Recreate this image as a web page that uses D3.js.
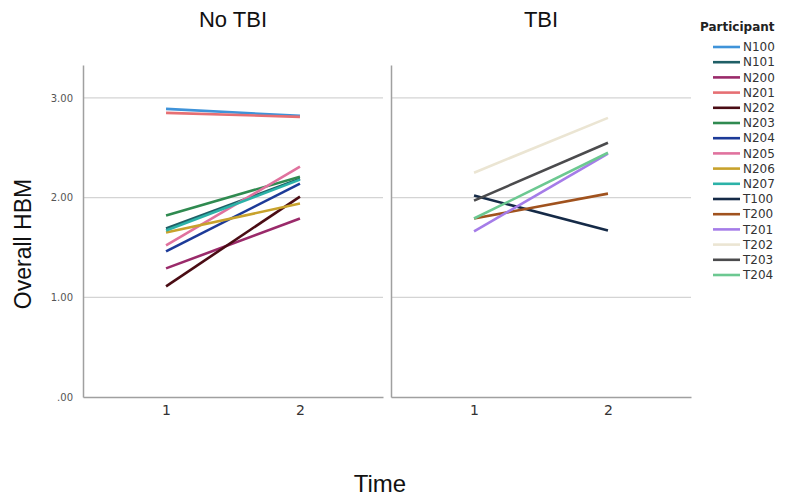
<!DOCTYPE html>
<html>
<head>
<meta charset="utf-8">
<script src="https://cdn.jsdelivr.net/npm/d3@7"></script>
<style>
  body { margin: 0; background: #fff; }
  svg { display: block; }
</style>
</head>
<body>
<div id="chart"></div>
<script>
// participants, colours and group (panel)
var participants = ["N100", "N101", "N200", "N201", "N202", "N203", "N204", "N205", "N206", "N207",
                    "T100", "T200", "T201", "T202", "T203", "T204"];
var colors = ["#3f93d9", "#1f5f66", "#9a2a6a", "#e66f73", "#4a0c14", "#2f8a50", "#1c3a98", "#e0729e", "#c8a22c", "#2cb2a8",
              "#152a47", "#a0521e", "#a57ce8", "#ebe5d3", "#4b4b4d", "#6cc891"];
var groups = ["No TBI", "No TBI", "No TBI", "No TBI", "No TBI", "No TBI", "No TBI", "No TBI", "No TBI", "No TBI",
              "TBI", "TBI", "TBI", "TBI", "TBI", "TBI"];
// Overall HBM at time 1 and time 2
var time1 = [2.89, 1.69, 1.29, 2.85, 1.11, 1.82, 1.46, 1.52, 1.65, 1.67,
             2.02, 1.79, 1.66, 2.25, 1.97, 1.79];
var time2 = [2.82, 2.19, 1.79, 2.81, 2.01, 2.21, 2.14, 2.31, 1.94, 2.18,
             1.67, 2.04, 2.44, 2.80, 2.55, 2.45];

var panels = ["No TBI", "TBI"];
var times = ["1", "2"];
var yTicks = [0, 1, 2, 3];

var svg = d3.select("#chart")
    .append("svg")
    .attr("width", 798)
    .attr("height", 502);

var margin = { top: 65, bottom: 105, left: 83 },
    panelW = 300,
    panelGap = 8,
    height = 502 - margin.top - margin.bottom;

var y = d3.scaleLinear()
    .domain([0, 3.33])
    .range([height, 0]);

var x = d3.scalePoint()
    .domain(times)
    .range([0, panelW])
    .padding(0.62);

var line = d3.line()
    .x(function (d) { return x(d.t); })
    .y(function (d) { return y(d.v); });

panels.forEach(function (p, pi) {
    var g = svg.append("g")
        .attr("transform", "translate(" + (margin.left + pi * (panelW + panelGap)) + "," + margin.top + ")");

    // gridlines
    g.append("g")
        .selectAll("line")
        .data(yTicks.slice(1))
        .join("line")
        .attr("x1", 0)
        .attr("x2", panelW)
        .attr("y1", function (d) { return y(d); })
        .attr("y2", function (d) { return y(d); })
        .attr("stroke", "#d4d4d4")
        .attr("stroke-width", 1.3);

    // y axis (labels only on the first panel)
    var yAxis = g.append("g")
        .call(d3.axisLeft(y).tickValues(yTicks).tickSize(0).tickPadding(10)
            .tickFormat(function (d) { return pi === 0 ? (d === 0 ? ".00" : d3.format(".2f")(d)) : ""; }));
    yAxis.select(".domain").attr("stroke", "#a0a0a0").attr("stroke-width", 1.5);
    yAxis.selectAll("text")
        .attr("fill", "#555")
        .style("font-family", "DejaVu Sans")
        .style("font-size", "10px");

    // x axis
    var xAxis = g.append("g")
        .attr("transform", "translate(0," + height + ")")
        .call(d3.axisBottom(x).tickSize(0).tickPadding(8));
    xAxis.select(".domain").attr("stroke", "#a0a0a0").attr("stroke-width", 1.5);
    xAxis.selectAll("text")
        .attr("fill", "#333")
        .style("font-family", "DejaVu Sans")
        .style("font-size", "14px");

    // panel title
    g.append("text")
        .attr("x", panelW / 2)
        .attr("y", -38)
        .attr("text-anchor", "middle")
        .style("font-family", "Liberation Sans")
        .style("font-size", "22px")
        .attr("fill", "#111")
        .text(p);

    // participant lines
    participants.forEach(function (id, i) {
        if (groups[i] !== p) return;
        g.append("path")
            .datum([{ t: "1", v: time1[i] }, { t: "2", v: time2[i] }])
            .attr("fill", "none")
            .attr("stroke", colors[i])
            .attr("stroke-width", 2.6)
            .attr("d", line);
    });
});

// y axis title
svg.append("text")
    .attr("transform", "rotate(-90)")
    .attr("x", -244)
    .attr("y", 31)
    .attr("text-anchor", "middle")
    .style("font-family", "Liberation Sans")
    .style("font-size", "23px")
    .attr("fill", "#111")
    .text("Overall HBM");

// x axis title
svg.append("text")
    .attr("x", 380)
    .attr("y", 492)
    .attr("text-anchor", "middle")
    .style("font-family", "Liberation Sans")
    .style("font-size", "24px")
    .attr("fill", "#111")
    .text("Time");

// legend
var legend = svg.append("g").attr("transform", "translate(713,47)");
legend.append("text")
    .attr("x", -13)
    .attr("y", -16)
    .style("font-family", "DejaVu Sans")
    .style("font-size", "12px")
    .style("font-weight", "bold")
    .attr("fill", "#222")
    .text("Participant");

var item = legend.selectAll("g.item")
    .data(participants)
    .join("g")
    .attr("class", "item")
    .attr("transform", function (d, i) { return "translate(0," + (i * 15.2) + ")"; });
item.append("line")
    .attr("x1", 0)
    .attr("x2", 27)
    .attr("stroke", function (d, i) { return colors[i]; })
    .attr("stroke-width", 2.6);
item.append("text")
    .attr("x", 30)
    .attr("dy", "0.35em")
    .style("font-family", "DejaVu Sans")
    .style("font-size", "12px")
    .attr("fill", "#333")
    .text(function (d) { return d; });
</script>
</body>
</html>
